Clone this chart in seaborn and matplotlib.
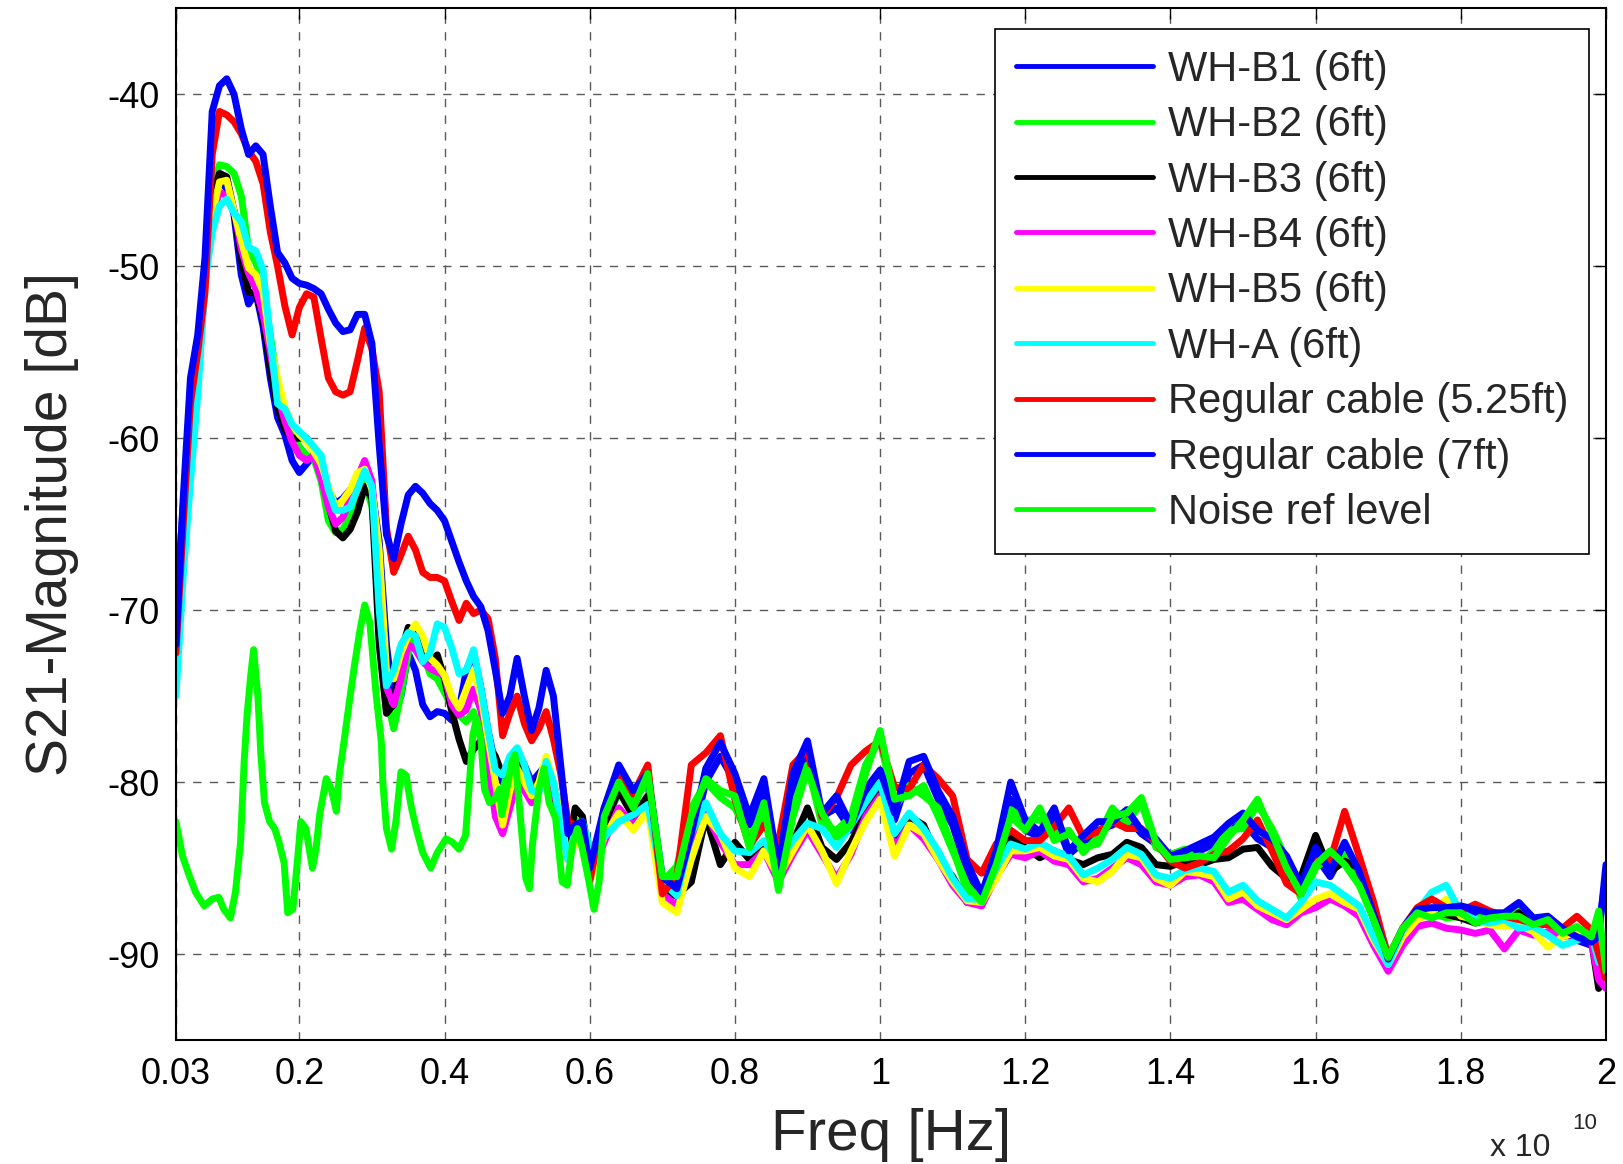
import numpy as np
import pandas as pd
import matplotlib
matplotlib.use("Agg")
import matplotlib.pyplot as plt
import seaborn as sns

sns.set_style("white")
plt.rcParams["font.family"] = ["Liberation Sans", "DejaVu Sans"]
plt.rcParams["axes.unicode_minus"] = False

# frequency grid in units of 1e10 Hz (shared by the eight cable curves)
freq = [0.03, 0.04, 0.05, 0.06, 0.07, 0.08, 0.09, 0.10, 0.11, 0.12,
        0.13, 0.14, 0.15, 0.16, 0.17, 0.18, 0.19, 0.20, 0.21, 0.22,
        0.23, 0.24, 0.25, 0.26, 0.27, 0.28, 0.29, 0.30, 0.31, 0.32,
        0.33, 0.34, 0.35, 0.36, 0.37, 0.38, 0.39, 0.40, 0.41, 0.42,
        0.43, 0.44, 0.45, 0.46, 0.47, 0.48, 0.49, 0.50, 0.51, 0.52,
        0.53, 0.54, 0.55, 0.56, 0.57, 0.58, 0.59, 0.60,
        0.62, 0.64, 0.66, 0.68, 0.70, 0.72, 0.74, 0.76, 0.78, 0.80,
        0.82, 0.84, 0.86, 0.88, 0.90, 0.92, 0.94, 0.96, 0.98, 1.00,
        1.02, 1.04, 1.06, 1.08, 1.10, 1.12, 1.14, 1.16, 1.18, 1.20,
        1.22, 1.24, 1.26, 1.28, 1.30, 1.32, 1.34, 1.36, 1.38, 1.40,
        1.42, 1.44, 1.46, 1.48, 1.50, 1.52, 1.54, 1.56, 1.58, 1.60,
        1.62, 1.64, 1.66, 1.68, 1.70, 1.72, 1.74, 1.76, 1.78, 1.80,
        1.82, 1.84, 1.86, 1.88, 1.90, 1.92, 1.94, 1.96, 1.98, 1.99, 2.00]

wh_b1 = [-70.0, -64.0, -58.0, -55.0, -50.0, -46.5, -45.0, -45.5, -47.0, -50.5,
         -52.2, -51.5, -53.5, -56.5, -58.8, -59.8, -61.3, -62.0, -61.5, -61.0,
         -61.8, -63.0, -63.8, -63.5, -63.0, -62.5, -62.0, -63.0, -66.0, -72.0,
         -75.5, -75.0, -72.5, -73.5, -75.5, -76.2, -75.9, -76.0, -76.4, -75.8,
         -73.5, -72.5, -74.5, -77.0, -79.0, -80.0, -79.0, -78.2, -79.0, -80.0,
         -79.5, -79.0, -80.0, -82.0, -83.5, -82.8, -82.5, -85.0,
         -82.0, -79.5, -81.0, -80.0, -86.0, -86.5, -83.5, -80.0, -78.5, -80.0,
         -82.5, -80.5, -85.5, -80.5, -78.3, -82.0, -81.5, -82.8, -81.0, -79.8,
         -82.2, -79.5, -79.0, -81.0, -82.5, -85.2, -87.0, -84.5, -81.0, -82.8,
         -83.2, -82.0, -84.2, -83.5, -82.8, -82.5, -82.0, -83.0, -83.6, -84.5,
         -84.3, -84.0, -83.6, -82.9, -82.3, -83.3, -83.8, -84.8, -86.3, -84.3,
         -85.5, -84.0, -85.5, -88.0, -90.5, -88.7, -87.6, -87.5, -87.6, -87.5,
         -87.7, -87.9, -87.8, -87.3, -88.1, -88.0, -88.7, -89.2, -89.5, -88.5, -85.5]

wh_b2 = [-71.0, -65.0, -59.0, -55.5, -50.0, -45.5, -44.1, -44.2, -44.6, -45.9,
         -49.0, -49.8, -51.0, -54.0, -56.8, -58.5, -59.8, -60.5, -61.0, -61.2,
         -62.5, -64.8, -65.5, -65.3, -64.5, -63.6, -62.5, -64.0, -68.0, -75.0,
         -76.9, -74.9, -72.5, -71.5, -72.5, -73.7, -74.0, -74.8, -75.6, -76.1,
         -76.5, -75.9, -77.5, -79.8, -81.2, -80.5, -78.8, -78.6, -80.0, -80.8,
         -80.4, -79.4, -81.0, -82.5, -84.0, -82.2, -82.5, -84.6,
         -82.5, -80.6, -81.0, -80.0, -85.8, -84.9, -81.5, -80.0, -80.9, -81.5,
         -83.2, -81.8, -86.0, -81.5, -79.0, -82.5, -82.8, -82.0, -79.0, -77.5,
         -81.5, -80.2, -80.8, -81.5, -83.8, -86.4, -86.5, -84.2, -81.6, -82.2,
         -82.2, -83.0, -82.8, -84.1, -83.2, -81.5, -82.4, -81.2, -83.8, -84.2,
         -83.9, -84.7, -84.0, -82.8, -82.7, -81.3, -82.7, -84.5, -86.8, -85.0,
         -84.3, -84.2, -85.5, -87.5, -90.0, -88.8, -87.8, -87.6, -87.9, -87.8,
         -88.0, -87.6, -88.2, -87.5, -88.1, -88.3, -88.6, -88.5, -88.8, -88.0, -90.5]

wh_b3 = [-71.5, -65.0, -59.0, -56.0, -50.5, -46.0, -44.6, -44.8, -46.8, -49.6,
         -51.5, -51.6, -53.0, -56.0, -58.2, -59.5, -60.0, -60.0, -60.0, -60.8,
         -62.0, -63.8, -65.4, -65.8, -65.3, -64.3, -62.8, -63.5, -72.0, -76.0,
         -75.5, -72.5, -71.0, -71.5, -72.5, -73.0, -72.6, -74.0, -75.9, -77.5,
         -78.8, -78.1, -77.6, -77.8, -78.5, -79.6, -79.0, -78.5, -80.0, -80.5,
         -79.8, -79.0, -80.5, -82.5, -84.0, -81.5, -82.0, -84.5,
         -82.5, -80.5, -82.0, -80.8, -86.5, -86.6, -85.8, -82.0, -84.8, -83.5,
         -84.5, -83.8, -85.2, -83.5, -81.5, -83.8, -84.5, -83.5, -81.8, -80.2,
         -83.8, -82.0, -82.5, -84.5, -85.5, -87.0, -86.5, -85.2, -83.2, -83.8,
         -84.4, -84.0, -84.5, -84.8, -84.4, -84.2, -83.5, -83.8, -84.8, -84.9,
         -84.6, -84.8, -84.5, -84.4, -83.9, -83.8, -84.9, -85.6, -85.5, -83.1,
         -85.2, -84.6, -85.0, -87.4, -90.4, -88.8, -87.8, -87.6, -87.7, -87.9,
         -88.2, -88.0, -88.3, -87.6, -88.4, -88.2, -88.6, -88.8, -89.2, -92.0, -90.0]

wh_b4 = [-72.0, -66.0, -60.0, -57.0, -51.0, -47.0, -45.7, -45.9, -46.7, -49.0,
         -50.4, -51.3, -52.8, -55.0, -57.5, -59.0, -60.2, -61.0, -61.3, -61.0,
         -62.3, -64.0, -65.0, -64.6, -63.5, -62.3, -61.3, -62.5, -67.0, -74.5,
         -75.5, -74.0, -72.0, -72.3, -73.0, -73.4, -73.6, -73.8, -75.5, -76.1,
         -75.8, -74.6, -75.8, -78.6, -82.0, -83.0, -81.5, -80.0, -80.5, -81.2,
         -80.3, -79.2, -80.5, -82.2, -84.5, -83.2, -83.0, -85.5,
         -83.5, -81.5, -82.5, -81.5, -86.5, -87.2, -84.0, -81.8, -83.5, -84.8,
         -84.8, -84.0, -85.8, -84.2, -82.8, -84.2, -85.6, -84.2, -82.0, -80.8,
         -83.8, -82.5, -83.3, -84.5, -86.0, -87.0, -87.2, -85.5, -84.2, -84.4,
         -84.0, -84.6, -84.8, -85.8, -85.6, -85.0, -84.4, -84.8, -85.8, -86.0,
         -85.5, -85.4, -85.8, -87.0, -86.8, -87.4, -88.0, -88.3, -87.6, -87.3,
         -86.8, -87.2, -87.8, -89.5, -91.0, -89.5, -88.4, -88.2, -88.5, -88.6,
         -88.8, -88.6, -89.7, -88.6, -88.9, -88.7, -89.0, -88.8, -89.3, -91.5, -92.0]

wh_b5 = [-72.0, -66.0, -60.0, -56.5, -50.5, -47.0, -45.1, -45.0, -46.8, -48.5,
         -50.1, -50.5, -51.5, -54.5, -56.5, -58.2, -59.2, -59.8, -60.2, -60.8,
         -61.5, -62.8, -64.0, -63.6, -63.0, -62.0, -61.8, -63.0, -66.5, -73.5,
         -74.0, -72.5, -71.5, -70.8, -71.5, -72.8, -73.2, -73.8, -75.0, -75.7,
         -74.6, -73.5, -75.0, -77.5, -80.0, -82.5, -80.5, -79.2, -80.0, -80.8,
         -80.0, -78.5, -80.0, -82.0, -84.5, -83.5, -83.3, -85.8,
         -83.2, -81.8, -82.8, -81.6, -87.0, -87.6, -84.5, -82.0, -83.0, -85.0,
         -85.5, -84.0, -85.5, -84.0, -82.5, -84.0, -85.9, -84.0, -82.3, -81.0,
         -84.3, -82.5, -83.0, -84.5, -85.8, -86.9, -87.0, -85.6, -84.0, -84.0,
         -83.8, -84.3, -84.5, -85.6, -85.8, -85.2, -84.2, -84.4, -85.6, -86.0,
         -85.2, -85.3, -85.5, -86.8, -86.4, -87.2, -87.6, -88.0, -87.4, -86.8,
         -86.5, -87.0, -87.4, -89.2, -90.6, -89.0, -88.0, -87.6, -86.8, -87.8,
         -88.0, -88.3, -88.4, -88.3, -88.7, -89.6, -89.0, -88.7, -89.1, -90.0, -89.5]

wh_a = [-75.0, -68.0, -62.5, -57.5, -51.0, -48.0, -46.5, -46.1, -46.9, -47.4,
        -48.9, -49.1, -50.2, -54.2, -58.0, -58.3, -59.2, -59.6, -60.0, -60.5,
        -61.0, -63.0, -64.2, -64.2, -64.0, -63.0, -61.9, -62.8, -70.0, -74.4,
        -73.5, -72.0, -71.3, -71.5, -73.0, -72.5, -70.8, -71.0, -72.2, -73.7,
        -73.5, -72.3, -74.5, -77.0, -79.3, -79.6, -78.5, -78.0, -79.0, -80.5,
        -80.6, -78.8, -80.0, -82.5, -84.5, -82.8, -82.3, -83.8,
        -83.2, -82.3, -81.9, -81.3, -85.8, -86.6, -83.0, -81.2, -83.0, -84.0,
        -84.1, -83.4, -84.6, -83.4, -82.4, -82.7, -83.8, -82.5, -81.2, -80.0,
        -83.0, -81.8, -82.7, -84.0, -85.6, -86.8, -86.8, -85.0, -83.6, -83.9,
        -83.5, -84.0, -84.3, -85.4, -85.0, -84.5, -83.8, -84.2, -85.4, -85.6,
        -85.1, -85.0, -85.2, -86.4, -86.0, -86.9, -87.4, -87.9, -87.0, -85.8,
        -86.0, -86.6, -87.2, -89.0, -90.6, -88.6, -87.5, -86.4, -86.0, -87.6,
        -88.0, -88.2, -88.0, -88.5, -88.4, -88.9, -89.5, -89.2, -88.8, -90.5, -89.0]

reg_525 = [-72.5, -65.0, -58.0, -55.0, -51.5, -43.5, -41.0, -41.2, -41.6, -42.3,
           -43.3, -43.9, -45.2, -48.0, -50.0, -52.3, -54.0, -52.4, -51.6, -51.8,
           -54.2, -56.5, -57.3, -57.5, -57.3, -55.5, -53.6, -54.8, -57.3, -65.2,
           -67.8, -66.8, -65.7, -66.5, -67.8, -68.1, -68.1, -68.3, -69.5, -70.6,
           -69.6, -70.2, -70.0, -70.5, -72.8, -77.3, -76.0, -75.0, -76.6, -77.6,
           -76.9, -75.9, -77.5, -79.5, -82.3, -82.5, -82.5, -85.8,
           -81.5, -79.5, -80.7, -79.0, -86.5, -85.5, -79.0, -78.3, -77.3, -81.0,
           -83.7, -82.5, -83.5, -79.0, -78.1, -82.0, -80.9, -79.0, -78.2, -77.6,
           -80.3, -80.4, -79.0, -79.8, -80.8, -84.5, -85.3, -83.6, -82.8, -83.4,
           -83.4, -82.6, -81.5, -83.2, -82.9, -82.3, -82.7, -82.7, -83.5, -84.6,
           -85.0, -84.7, -84.2, -84.0, -83.3, -82.2, -84.0, -85.9, -86.5, -84.6,
           -84.6, -81.7, -84.3, -87.0, -90.2, -88.5, -87.3, -86.8, -87.3, -87.5,
           -87.1, -87.5, -87.8, -88.0, -88.2, -88.3, -88.5, -87.8, -88.6, -90.0, -91.4]

reg_7 = [-72.0, -63.5, -56.5, -54.0, -49.5, -41.0, -39.5, -39.1, -40.0, -42.0,
         -43.5, -43.0, -43.5, -46.5, -49.2, -49.8, -50.7, -51.0, -51.1, -51.3,
         -51.6, -52.5, -53.3, -53.8, -53.7, -52.8, -52.8, -54.5, -60.4, -65.6,
         -67.0, -65.0, -63.3, -62.8, -63.2, -63.8, -64.2, -64.8, -66.0, -67.2,
         -68.3, -69.2, -69.8, -71.2, -73.5, -76.0, -75.0, -72.8, -75.0, -77.0,
         -75.7, -73.5, -75.0, -79.0, -83.0, -82.5, -82.3, -85.0,
         -81.5, -79.0, -80.5, -79.5, -85.5, -86.2, -83.0, -79.2, -77.7, -79.5,
         -82.0, -79.8, -85.0, -79.5, -77.6, -81.8, -80.8, -82.5, -80.4, -79.3,
         -81.8, -78.8, -78.5, -80.5, -82.0, -84.7, -86.5, -84.0, -80.0, -82.2,
         -82.9, -81.5, -84.0, -83.1, -82.3, -82.3, -81.6, -82.8, -83.3, -84.3,
         -84.0, -83.6, -83.2, -82.4, -81.8, -82.8, -83.3, -84.3, -86.0, -83.8,
         -85.2, -83.5, -85.2, -87.7, -90.3, -88.5, -87.4, -87.3, -87.3, -87.2,
         -87.4, -87.6, -87.6, -87.0, -87.9, -87.8, -88.5, -89.0, -89.3, -89.0, -84.8]

# noise floor has its own (denser) frequency points
noise_freq = [0.030, 0.039, 0.048, 0.057, 0.069, 0.080, 0.089, 0.096, 0.105, 0.112,
              0.119, 0.124, 0.128, 0.133, 0.137, 0.143, 0.147, 0.152, 0.159, 0.166,
              0.172, 0.179, 0.184, 0.191, 0.198, 0.202, 0.209, 0.218, 0.223, 0.228,
              0.237, 0.244, 0.251, 0.255, 0.262, 0.269, 0.276, 0.283, 0.290, 0.297,
              0.301, 0.306, 0.313, 0.315, 0.320, 0.327, 0.333, 0.340, 0.347, 0.354,
              0.361, 0.370, 0.381, 0.390, 0.402, 0.411, 0.420, 0.429, 0.434, 0.439,
              0.444, 0.450, 0.455, 0.462, 0.469, 0.476, 0.479, 0.493, 0.497, 0.505,
              0.512, 0.517, 0.521, 0.530, 0.537, 0.544, 0.553, 0.562, 0.569, 0.576,
              0.583, 0.590, 0.599, 0.606, 0.613,
              0.62, 0.64, 0.66, 0.68, 0.70, 0.72, 0.74, 0.76, 0.78, 0.80,
              0.82, 0.84, 0.86, 0.88, 0.90, 0.92, 0.94, 0.96, 0.98, 1.00,
              1.02, 1.04, 1.06, 1.08, 1.10, 1.12, 1.14, 1.16, 1.18, 1.20,
              1.22, 1.24, 1.26, 1.28, 1.30, 1.32, 1.34, 1.36, 1.38, 1.40,
              1.42, 1.44, 1.46, 1.48, 1.50, 1.52, 1.54, 1.56, 1.58, 1.60,
              1.62, 1.64, 1.66, 1.68, 1.70, 1.72, 1.74, 1.76, 1.78, 1.80,
              1.82, 1.84, 1.86, 1.88, 1.90, 1.92, 1.94, 1.96, 1.98, 1.99, 2.00]

noise = [-82.3, -84.3, -85.4, -86.4, -87.2, -86.8, -86.7, -87.4, -87.9, -86.4,
         -83.5, -78.8, -76.1, -73.8, -72.3, -75.1, -78.4, -81.2, -82.3, -82.7,
         -83.5, -84.7, -87.6, -87.4, -84.3, -82.3, -82.7, -85.0, -83.9, -81.9,
         -79.8, -80.4, -81.7, -79.6, -77.5, -75.3, -73.2, -71.3, -69.7, -70.7,
         -72.6, -75.0, -77.7, -80.0, -82.7, -83.9, -82.3, -79.4, -79.6, -81.4,
         -82.7, -84.1, -85.0, -84.1, -83.3, -83.5, -83.9, -83.1, -80.2, -77.3,
         -76.3, -77.5, -80.4, -81.2, -81.0, -80.4, -81.9, -78.8, -78.4, -82.3,
         -85.6, -86.2, -83.7, -80.4, -79.2, -81.2, -82.1, -85.8, -86.0, -83.7,
         -82.7, -83.9, -85.8, -87.4, -85.8,
         -82.0, -80.0, -81.5, -79.5, -85.5, -85.5, -82.0, -79.8, -80.5, -80.8,
         -83.8, -81.2, -86.3, -82.0, -79.3, -81.8, -83.2, -82.5, -79.5, -77.0,
         -81.0, -80.8, -80.2, -82.0, -84.0, -86.0, -87.0, -84.8, -82.0, -82.8,
         -81.5, -83.4, -83.0, -83.8, -83.6, -82.0, -81.8, -80.9, -83.5, -84.5,
         -84.4, -84.3, -84.4, -83.2, -82.2, -81.0, -83.0, -85.0, -86.5, -84.8,
         -84.0, -84.8, -86.0, -88.0, -90.2, -88.5, -87.6, -87.9, -87.6, -87.6,
         -88.2, -87.9, -87.8, -87.8, -88.3, -88.0, -88.8, -88.4, -89.0, -87.5, -91.0]

labels = ["WH-B1 (6ft)", "WH-B2 (6ft)", "WH-B3 (6ft)", "WH-B4 (6ft)", "WH-B5 (6ft)",
          "WH-A (6ft)", "Regular cable (5.25ft)", "Regular cable (7ft)", "Noise ref level"]
colors = ["#0000FF", "#00FF00", "#000000", "#FF00FF", "#FFFF00",
          "#00FFFF", "#FF0000", "#0000FF", "#00FF00"]

xticks = [0.03, 0.2, 0.4, 0.6, 0.8, 1.0, 1.2, 1.4, 1.6, 1.8, 2.0]
xtick_labels = ["0.03", "0.2", "0.4", "0.6", "0.8", "1", "1.2", "1.4", "1.6", "1.8", "2"]
yticks = [-90, -80, -70, -60, -50, -40]

curves = [wh_b1, wh_b2, wh_b3, wh_b4, wh_b5, wh_a, reg_525, reg_7]
frames = []
for name, vals in zip(labels[:8], curves):
    assert len(vals) == len(freq), name
    frames.append(pd.DataFrame({"freq": freq, "db": vals, "series": name}))
assert len(noise) == len(noise_freq)
frames.append(pd.DataFrame({"freq": noise_freq, "db": noise, "series": labels[8]}))
df = pd.concat(frames, ignore_index=True)

fig = plt.figure(figsize=(16.23, 11.64), dpi=100)
ax = fig.add_axes([0.1084, 0.1065, 0.8811, 0.8864])

sns.lineplot(data=df, x="freq", y="db", hue="series", hue_order=labels,
             palette=dict(zip(labels, colors)), estimator=None, sort=False,
             lw=5, ax=ax)

ax.set_xlim(0.03, 2.0)
ax.set_ylim(-95, -35)
ax.set_xticks(xticks)
ax.set_xticklabels(xtick_labels)
ax.set_yticks(yticks)
ax.tick_params(direction="in", length=8, width=1, top=True, right=True,
               labelsize=26, pad=12, colors="black")
ax.grid(True, color="0.35", linestyle=(0, (6, 6)), linewidth=1)
for s in ax.spines.values():
    s.set_visible(True)
    s.set_color("black")
    s.set_linewidth(1.5)

ax.set_xlabel("Freq [Hz]", fontsize=42, labelpad=12)
ax.set_ylabel("S21-Magnitude [dB]", fontsize=41, labelpad=20)

fig.text(0.918, 0.007, "x 10", fontsize=23, va="baseline")
fig.text(0.969, 0.030, "10", fontsize=16, va="baseline")

handles, labs = ax.get_legend_handles_labels()
leg = ax.legend(handles, labs, loc="upper right", bbox_to_anchor=(0.9884, 0.980),
                borderaxespad=0, fontsize=30, frameon=True, fancybox=False,
                framealpha=1, edgecolor="black", handlelength=3.3,
                handletextpad=0.35, labelspacing=0.37, borderpad=0.5)
leg.get_frame().set_linewidth(1.2)
for line in leg.get_lines():
    line.set_linewidth(3.5)

fig.savefig("out.png", dpi=100)
